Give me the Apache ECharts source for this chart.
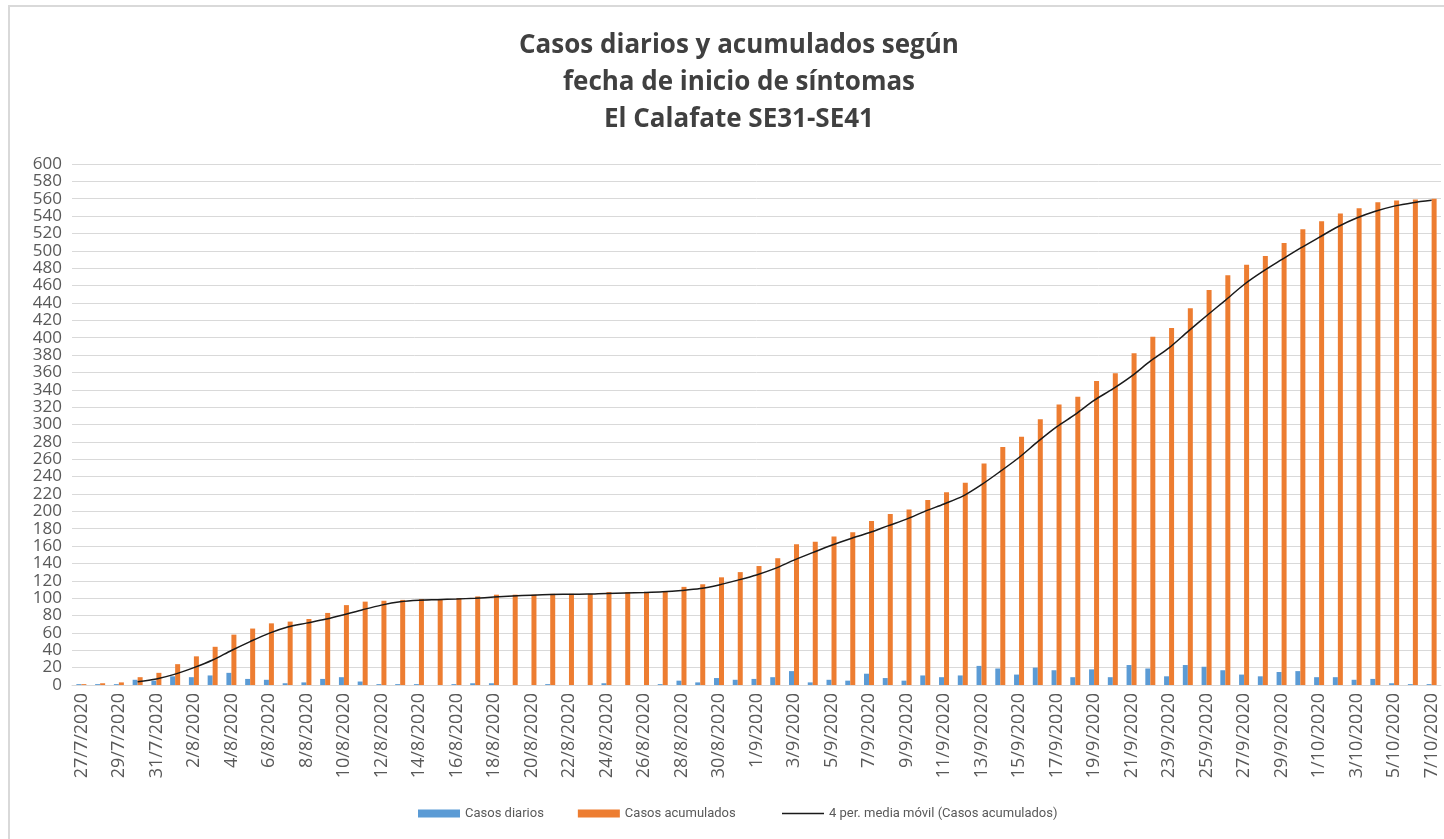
<!DOCTYPE html>
<html>
<head>
<meta charset="utf-8">
<script src="https://cdn.jsdelivr.net/npm/echarts@6/dist/echarts.min.js"></script>
<style>
  html, body { margin: 0; padding: 0; background: #fff; }
  #chart { width: 1444px; height: 839px; }
</style>
</head>
<body>
<div id="chart"></div>
<script>
// fechas 27/7/2020 .. 7/10/2020
var fechas = [
  '27/7/2020','28/7/2020','29/7/2020','30/7/2020','31/7/2020',
  '1/8/2020','2/8/2020','3/8/2020','4/8/2020','5/8/2020','6/8/2020','7/8/2020','8/8/2020','9/8/2020','10/8/2020',
  '11/8/2020','12/8/2020','13/8/2020','14/8/2020','15/8/2020','16/8/2020','17/8/2020','18/8/2020','19/8/2020','20/8/2020',
  '21/8/2020','22/8/2020','23/8/2020','24/8/2020','25/8/2020','26/8/2020','27/8/2020','28/8/2020','29/8/2020','30/8/2020','31/8/2020',
  '1/9/2020','2/9/2020','3/9/2020','4/9/2020','5/9/2020','6/9/2020','7/9/2020','8/9/2020','9/9/2020','10/9/2020',
  '11/9/2020','12/9/2020','13/9/2020','14/9/2020','15/9/2020','16/9/2020','17/9/2020','18/9/2020','19/9/2020','20/9/2020',
  '21/9/2020','22/9/2020','23/9/2020','24/9/2020','25/9/2020','26/9/2020','27/9/2020','28/9/2020','29/9/2020','30/9/2020',
  '1/10/2020','2/10/2020','3/10/2020','4/10/2020','5/10/2020','6/10/2020','7/10/2020'
];

var casosDiarios = [
  1, 1, 1, 6, 5,
  10, 9, 11, 14, 7, 6, 2, 3, 7, 9,
  4, 1, 1, 1, 0, 1, 2, 2, 0, 0,
  1, 0, 0, 2, 0, 0, 1, 5, 3, 8, 6,
  7, 9, 16, 3, 6, 5, 13, 8, 5, 11,
  9, 11, 22, 19, 12, 20, 17, 9, 18, 9,
  23, 19, 10, 23, 21, 17, 12, 10, 15, 16,
  9, 9, 6, 7, 2, 1, 1
];

var casosAcumulados = [
  1, 2, 3, 9, 14,
  24, 33, 44, 58, 65, 71, 73, 76, 83, 92,
  96, 97, 98, 99, 99, 100, 102, 104, 104, 104,
  105, 105, 105, 107, 107, 107, 108, 113, 116, 124, 130,
  137, 146, 162, 165, 171, 176, 189, 197, 202, 213,
  222, 233, 255, 274, 286, 306, 323, 332, 350, 359,
  382, 401, 411, 434, 455, 472, 484, 494, 509, 525,
  534, 543, 549, 556, 558, 559, 560
];

// linea de tendencia de Excel: media movil de 4 periodos
var mediaMovil = [
  '-', '-', '-', 3.75, 7,
  12.5, 20, 28.75, 39.75, 50, 59.5, 66.75, 71.25, 75.75, 81,
  86.75, 92, 95.75, 97.5, 98.25, 99, 100, 101.25, 102.5, 103.5,
  104.25, 104.5, 104.75, 105.5, 106, 106.5, 107.25, 108.75, 111, 115.25, 120.75,
  126.75, 134.25, 143.75, 152.5, 161, 168.5, 175.25, 183.25, 191, 200.25,
  208.5, 217.5, 230.75, 246, 262, 280.25, 297.25, 311.75, 327.75, 341,
  355.75, 373, 388.25, 407, 425.25, 443, 461.25, 476.25, 489.75, 503,
  515.5, 527.75, 537.75, 545.5, 551.5, 555.5, 558.25
];

var chart = echarts.init(document.getElementById('chart'), null, { renderer: 'canvas' });

var font = '"Open Sans", "Noto Sans", sans-serif';
var gris = '#595959';
var legendText = { fontFamily: '"Roboto", sans-serif', fontSize: 13, color: gris };

chart.setOption({
  animation: false,
  backgroundColor: '#fff',
  graphic: [{
    type: 'rect',
    shape: { x: 9, y: 6, width: 1460, height: 860 },
    style: { fill: null, stroke: '#d9d9d9', lineWidth: 2 },
    silent: true
  }],
  title: {
    text: 'Casos diarios y acumulados según\nfecha de inicio de síntomas\nEl Calafate SE31-SE41',
    left: 734,
    top: 22,
    textAlign: 'center',
    textStyle: {
      fontFamily: font,
      fontWeight: 'bold',
      fontSize: 26,
      lineHeight: 37,
      color: '#404040'
    }
  },
  legend: [
    {
      left: 413,
      bottom: 14,
      itemWidth: 42,
      itemHeight: 8,
      itemGap: 34,
      textStyle: legendText,
      data: [
        { name: 'Casos diarios', icon: 'rect' },
        { name: 'Casos acumulados', icon: 'rect' }
      ]
    },
    {
      left: 777,
      bottom: 14,
      itemWidth: 42,
      itemHeight: 8,
      textStyle: legendText,
      data: [
        { name: '4 per. media móvil (Casos acumulados)', icon: 'path://M0,0 L42,0 L42,1.4 L0,1.4 Z' }
      ]
    }
  ],
  grid: {
    left: 72,
    right: 3,
    top: 164,
    bottom: 154,
    containLabel: false
  },
  xAxis: {
    type: 'category',
    data: fechas,
    boundaryGap: true,
    axisLine: { lineStyle: { color: '#d9d9d9', width: 1 } },
    axisTick: { interval: 1, length: 5, lineStyle: { color: '#d9d9d9' } },
    axisLabel: {
      interval: 1,
      rotate: 90,
      margin: 8,
      fontFamily: font,
      fontSize: 18,
      color: gris
    }
  },
  yAxis: {
    type: 'value',
    min: 0,
    max: 600,
    interval: 20,
    axisLine: { show: false },
    axisTick: { show: false },
    axisLabel: { fontFamily: font, fontSize: 17, color: gris, margin: 10 },
    splitLine: { lineStyle: { color: '#d9d9d9', width: 1 } }
  },
  series: [
    {
      name: 'Casos diarios',
      type: 'bar',
      data: casosDiarios,
      barWidth: 5,
      barGap: '0%',
      itemStyle: { color: '#5B9BD5' }
    },
    {
      name: 'Casos acumulados',
      type: 'bar',
      data: casosAcumulados,
      barWidth: 5,
      itemStyle: { color: '#ED7D31' }
    },
    {
      name: '4 per. media móvil (Casos acumulados)',
      type: 'line',
      data: mediaMovil,
      symbol: 'none',
      smooth: 0.3,
      lineStyle: { color: '#1a1a1a', width: 1.5 },
      itemStyle: { color: '#1a1a1a' },
      z: 5
    }
  ]
});
</script>
</body>
</html>
